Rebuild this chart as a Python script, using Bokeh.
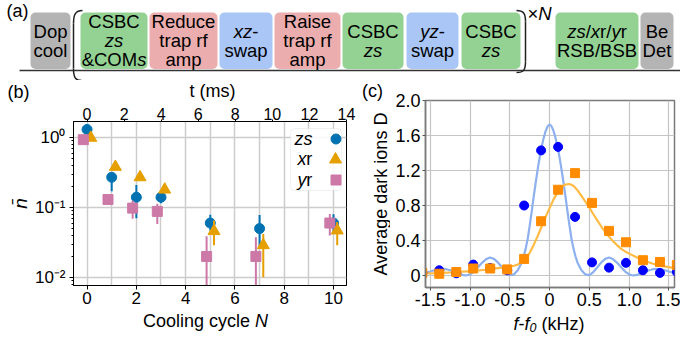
import math
import numpy as np
from bokeh.plotting import figure
from bokeh.layouts import column, row
from bokeh.models import (Range1d, LinearAxis, FixedTicker, Label, BoxAnnotation,
                          Legend, LegendItem, PrintfTickFormatter, AllLabels)
from bokeh.core.properties import value
from bokeh.embed import file_html
from bokeh.resources import INLINE

FONT = "Liberation Sans"

# ---------------- panel (b) data ----------------
cycles = [0, 1, 2, 3, 5, 7, 10]
zs_nbar = [1.3, 0.27, 0.14, 0.14, 0.06, 0.05, 0.06]
zs_lo = [1.2, 0.17, 0.07, 0.115, 0.047, 0.027, 0.044]
zs_hi = [1.4, 0.30, 0.21, 0.16, 0.079, 0.078, 0.08]
xr_nbar = [0.99, 0.38, 0.27, 0.18, 0.046, 0.029, 0.047]
xr_lo = [0.93, 0.35, 0.25, 0.165, 0.029, 0.0101, 0.029]
xr_hi = [1.05, 0.41, 0.29, 0.195, 0.065, 0.042, 0.062]
yr_nbar = [0.93, 0.13, 0.098, 0.088, 0.02, 0.02, 0.06]
yr_lo = [0.88, 0.12, 0.069, 0.058, 0.001, 0.001, 0.04]
yr_hi = [0.98, 0.14, 0.126, 0.113, 0.039, 0.0375, 0.081]
n_ticks = [0, 2, 4, 6, 8, 10]
t_ticks = [0, 2, 4, 6, 8, 10, 12, 14]
ms_per_cycle = 1.33
y_tick_labels = {0.01: "10\u207b\u00b2", 0.1: "10\u207b\u00b9", 1: "10\u2070"}

# ---------------- panel (c) data ----------------
detuning = [-1.6, -1.387, -1.173, -0.96, -0.747, -0.533, -0.32, -0.107,
            0.107, 0.32, 0.533, 0.747, 0.96, 1.173, 1.387, 1.6]
dark_blue = [0.03, 0.06, 0.025, 0.125, 0.085, 0.06, 0.80, 1.43,
             1.47, 0.67, 0.15, 0.09, 0.145, 0.06, 0.03, 0.04]
dark_orange = [0.03, 0.02, 0.04, 0.08, 0.08, 0.07, 0.19, 0.62,
               0.98, 1.17, 0.83, 0.51, 0.38, 0.175, 0.155, 0.12]
fit_blue_x = [-1.56, -1.5, -1.45, -1.4, -1.35, -1.3, -1.25, -1.2, -1.15, -1.1, -1.05,
              -1.0, -0.95, -0.9, -0.85, -0.8, -0.75, -0.7, -0.65, -0.6, -0.55, -0.5,
              -0.45, -0.4, -0.35, -0.325, -0.3, -0.275, -0.25, -0.225, -0.2, -0.175,
              -0.15, -0.125, -0.1, -0.075, -0.05, -0.025, 0.0,
              0.025, 0.05, 0.075, 0.1, 0.125, 0.15, 0.175, 0.2, 0.225, 0.25, 0.275,
              0.3, 0.325, 0.35, 0.4, 0.45, 0.5, 0.55, 0.6, 0.65, 0.7, 0.75, 0.8,
              0.85, 0.9, 0.95, 1.0, 1.05, 1.1, 1.15, 1.2, 1.25, 1.3, 1.35, 1.4,
              1.45, 1.5, 1.57]
fit_blue_y = [0.03, 0.045, 0.06, 0.07, 0.075, 0.072, 0.06, 0.043, 0.024, 0.008, 0.0,
              0.012, 0.045, 0.095, 0.145, 0.185, 0.205, 0.19, 0.15, 0.095, 0.04, 0.005,
              0.012, 0.06, 0.15, 0.22, 0.31, 0.42, 0.57, 0.73, 0.90, 1.06,
              1.21, 1.35, 1.47, 1.57, 1.65, 1.705, 1.726,
              1.705, 1.65, 1.57, 1.47, 1.35, 1.21, 1.06, 0.90, 0.73, 0.57, 0.42,
              0.31, 0.22, 0.15, 0.06, 0.012, 0.005, 0.04, 0.095, 0.15, 0.19, 0.205, 0.185,
              0.145, 0.095, 0.045, 0.012, 0.0, 0.008, 0.024, 0.043, 0.06, 0.072, 0.075, 0.07,
              0.06, 0.045, 0.03]
fit_orange_x = [-1.56, -1.4, -1.2, -1.0, -0.8, -0.7, -0.6, -0.5, -0.45, -0.4, -0.35, -0.3,
                -0.25, -0.2, -0.15, -0.1, -0.05, 0.0, 0.05, 0.1, 0.15, 0.2, 0.25, 0.3,
                0.35, 0.4, 0.45, 0.5, 0.55, 0.6, 0.65, 0.7, 0.75, 0.8, 0.85, 0.9, 0.95,
                1.0, 1.1, 1.2, 1.3, 1.4, 1.5, 1.57]
fit_orange_y = [0.023, 0.028, 0.037, 0.05, 0.066, 0.078, 0.09, 0.103, 0.112, 0.125, 0.15, 0.195,
                0.26, 0.35, 0.45, 0.56, 0.67, 0.77, 0.87, 0.95, 1.01, 1.04, 1.045, 1.025,
                0.975, 0.91, 0.845, 0.775, 0.70, 0.63, 0.56, 0.495, 0.44, 0.39, 0.345, 0.305, 0.275,
                0.25, 0.205, 0.165, 0.135, 0.11, 0.095, 0.085]
c_x_ticks = [-1.5, -1.0, -0.5, 0, 0.5, 1.0, 1.5]
c_y_ticks = [0, 0.4, 0.8, 1.2, 1.6, 2.0]

# ---------------- panel (a) sequence ----------------
step_lines = [
    [[("Dop", 0)], [("cool", 0)]],
    [[("CSBC", 0)], [("zs", 1)], [("&COM", 0), ("s", 1)]],
    [[("Reduce", 0)], [("trap rf", 0)], [("amp", 0)]],
    [[("xz", 1), ("-", 0)], [("swap", 0)]],
    [[("Raise", 0)], [("trap rf", 0)], [("amp", 0)]],
    [[("CSBC", 0)], [("zs", 1)]],
    [[("yz", 1), ("-", 0)], [("swap", 0)]],
    [[("CSBC", 0)], [("zs", 1)]],
    [[("zs", 1), ("/", 0), ("x", 1), ("r/", 0), ("y", 1), ("r", 0)], [("RSB/BSB", 0)]],
    [[("Be", 0)], [("Det", 0)]],
]
step_kind = ["det", "csbc", "rf", "swap", "rf", "csbc", "swap", "csbc", "csbc", "det"]

# ---------------- layout / style ----------------
kind_color = {"det": "#b4b4b4", "csbc": "#93d293", "rf": "#ebadad", "swap": "#a9c6f7"}
box_left = [30, 80, 149, 219, 274, 342, 406, 461, 555, 640]
box_right = [70, 147, 217, 272, 340, 403, 458, 520, 638, 673]
line_y = {2: [31, 50], 3: [21, 40, 59]}

C_ZS, C_XR, C_YR = "#0072B2", "#E69F00", "#CC79A7"

W = {'&': .667, 'C': .722, 'O': .778, 'M': .833, 's': .5, 'x': .5, 'z': .5, '-': .333,
     'y': .5, '/': .278, 'r': .333, 'N': .722, '\u00d7': .584, 'f': .278, '0': .556,
     ' ': .278, '(': .333, ')': .333, 'k': .5, 'H': .722, 'o': .556, 'l': .222,
     'i': .222, 'n': .556, 'g': .556, 'c': .5, 'e': .556, 'S': .667, 'B': .667,
     'R': .722, 'd': .556, 'u': .556, 't': .278, 'a': .556, 'p': .556, 'm': .833,
     'w': .722, 'D': .722, 'b': .556}


def text_w(t, size):
    return sum(W.get(ch, .556) for ch in t) * size


def add_text(fig, x, y, text, size, italic=False, align="center", baseline="middle", angle=0.0):
    fig.add_layout(Label(x=x, y=y, text=text, text_font=FONT, text_font_size=f"{size}px",
                         text_font_style="italic" if italic else "normal",
                         text_align=align, text_baseline=baseline, angle=angle,
                         text_color="black"))


def add_pieces(fig, pieces, x, y, size, anchor="center", data_per_px=1.0):
    widths = [text_w(t, size) for t, _ in pieces]
    total = sum(widths)
    if anchor == "center":
        cur = x - total / 2 * data_per_px
    elif anchor == "right":
        cur = x - total * data_per_px
    else:
        cur = x
    for (t, it), w in zip(pieces, widths):
        add_text(fig, cur, y, t.strip(), size, italic=bool(it), align="left")
        cur += w * data_per_px


def no_align(f):
    if "frame_align" in f.properties():
        f.frame_align = False
    return f


def strip(x0, x1, y0, y1):
    """A blank figure whose data coordinates equal page pixels."""
    f = figure(width=x1 - x0, height=y1 - y0, x_range=Range1d(x0, x1), y_range=Range1d(y1, y0),
               x_axis_location=None, y_axis_location=None, output_backend="svg",
               toolbar_location=None, min_border=0, title_location=None)
    f.grid.visible = False
    f.outline_line_color = None
    return no_align(f)


TOP_H = 80          # height of the schematic strip
MID_Y1 = 311        # bottom of the plot row

# ================= panel (a) =================
pa = strip(0, 680, 0, TOP_H)
pa.quad(left=box_left, right=box_right, top=[12] * len(box_left), bottom=[68.5] * len(box_left),
        fill_color=[kind_color[k] for k in step_kind], line_color=None, border_radius=5)
pa.segment(x0=[19], y0=[70], x1=[680], y1=[70], line_color="#333333", line_width=1.5)
pa.bezier(x0=[82, 73], y0=[10, 68], x1=[73, 81], y1=[23, 80],
          cx0=[75, 73], cy0=[10, 77], cx1=[73, 75], cy1=[14, 80],
          line_color="#222222", line_width=1.5)
pa.segment(x0=[73], y0=[23], x1=[73], y1=[68], line_color="#222222", line_width=1.5)
pa.bezier(x0=[516, 525], y0=[10, 61], x1=[525, 516], y1=[21, 72],
          cx0=[523, 525], cy0=[10, 70], cx1=[525, 523], cy1=[13, 72],
          line_color="#222222", line_width=1.5)
pa.segment(x0=[525], y0=[21], x1=[525], y1=[61], line_color="#222222", line_width=1.5)
for lines, l, r in zip(step_lines, box_left, box_right):
    for pieces, yy in zip(lines, line_y[len(lines)]):
        add_pieces(pa, pieces, (l + r) / 2, yy, 18.5)
add_pieces(pa, [("\u00d7", 0), ("N", 1)], 527, 13, 18.5, anchor="left")
add_text(pa, 17, 10, "(a)", 18)

# ================= panel (b) =================
FB_L, FB_R, FB_T, FB_B = 68, 346, 121, 285      # frame edges on the page
B_X0, B_X1, B_Y0, B_Y1 = 31, 356, 101, MID_Y1   # canvas of panel (b) on the page
b_x0, b_x1 = -0.55, 14.0 / ms_per_cycle
b_y0, b_y1 = 0.0077, 1.69
pb = figure(width=B_X1 - B_X0, height=B_Y1 - B_Y0,
            x_range=Range1d(b_x0, b_x1), y_range=Range1d(b_y0, b_y1),
            y_axis_type="log", output_backend="svg", toolbar_location=None,
            title_location=None,
            min_border_left=FB_L - B_X0, min_border_right=B_X1 - FB_R,
            min_border_top=FB_T - B_Y0, min_border_bottom=B_Y1 - FB_B)
no_align(pb)
bottom_ax = pb.below[0]
left_ax = pb.left[0]
pb.extra_x_ranges = {"t": Range1d(b_x0 * ms_per_cycle, 14.0)}
top_ax = LinearAxis(x_range_name="t", ticker=FixedTicker(ticks=t_ticks))
pb.add_layout(top_ax, "above")

b_pxu = (FB_R - FB_L) / (b_x1 - b_x0)
b_pxd = (FB_B - FB_T) / (math.log10(b_y1) - math.log10(b_y0))


def bx(px):
    return b_x0 + (px - FB_L) / b_pxu


def by(py):
    return 10 ** (math.log10(b_y1) - (py - FB_T) / b_pxd)


bottom_ax.ticker = FixedTicker(ticks=n_ticks)
left_ax.ticker = FixedTicker(ticks=[0.01, 0.1, 1],
                             minor_ticks=[m * d for d in (0.001, 0.01, 0.1, 1.0) for m in range(2, 10)])
left_ax.major_label_overrides = y_tick_labels
pb.xgrid.ticker = FixedTicker(ticks=list(range(0, 11)))
pb.ygrid.ticker = FixedTicker(ticks=[0.01, 0.1, 1])
pb.grid.grid_line_color = "#cccccc"
pb.grid.grid_line_width = 1.5
pb.outline_line_color = "black"
pb.outline_line_width = 1
for ax in (bottom_ax, left_ax, top_ax):
    ax.axis_line_color = "black"
    ax.major_tick_line_color = "black"
    ax.major_tick_out = 4
    ax.major_tick_in = 0
    ax.minor_tick_out = 2
    ax.minor_tick_in = 0
    ax.major_label_text_font = FONT
    ax.major_label_text_font_size = "17px"
    ax.major_label_text_color = "black"
    ax.major_label_policy = AllLabels()
for ax in (bottom_ax, top_ax):
    ax.minor_tick_line_color = None
top_ax.major_tick_out = 2
top_ax.major_label_text_font_size = "16px"
bottom_ax.major_label_standoff = 2
top_ax.major_label_standoff = 0
left_ax.major_label_standoff = 4

off = 0.15
series = [
    (zs_nbar, zs_lo, zs_hi, 0.0, C_ZS, "circle", 10),
    (xr_nbar, xr_lo, xr_hi, off, C_XR, "triangle", 12),
    (yr_nbar, yr_lo, yr_hi, -off, C_YR, "square", 10),
]
renderers = []
for vals, lo, hi, dx, col, mk, sz in series:
    xs = (np.array(cycles) + dx).tolist()
    pb.segment(x0=xs, y0=lo, x1=xs, y1=hi, line_color=col, line_width=2)
    r = pb.scatter(x=xs, y=vals, marker=mk, size=sz, fill_color=col, line_color=col)
    renderers.append((r, sz))

pb.add_layout(BoxAnnotation(left=bx(289), right=bx(341), top=by(128), bottom=by(190),
                            fill_color="white", fill_alpha=0.85, line_color="#cccccc",
                            line_width=1, border_radius=4))
leg_rows = [138, 158.5, 179]
leg_text = [[("zs", 1)], [("x", 1), ("r", 0)], [("y", 1), ("r", 0)]]
for (r, sz), yy, pieces in zip(renderers, leg_rows, leg_text):
    add_pieces(pb, pieces, bx(311), by(yy), 18, anchor="right", data_per_px=1 / b_pxu)
    g = int(round(sz / 0.4))
    leg = Legend(items=[LegendItem(label=value(""), renderers=[r])],
                 location=(330 - FB_L - g / 2, FB_B - yy - g / 2),
                 glyph_width=g, glyph_height=g, padding=0, margin=0, spacing=0,
                 label_standoff=0, label_width=0, label_height=0,
                 border_line_color=None, background_fill_alpha=0)
    pb.add_layout(leg)

# strips carrying the texts around panel (b)
pb_left = strip(0, B_X0, TOP_H, MID_Y1)
add_text(pb_left, 18, 91.5, "(b)", 18)
add_text(pb_left, 20, 203, "n\u0304", 19, italic=True, angle=math.pi / 2)
pb_top = strip(B_X0, B_X1, TOP_H, B_Y0)
add_text(pb_top, 212, 90.5, "t (ms)", 18)

# ================= panel (c) =================
FC_L, FC_R, FC_T, FC_B = 425, 674, 100, 287
C_X0, C_X1, C_Y0, C_Y1 = 390, 680, TOP_H, MID_Y1
c_x0, c_x1 = -1.56, 1.57
c_y0, c_y1 = -0.137, 2.0
pc = figure(width=C_X1 - C_X0, height=C_Y1 - C_Y0,
            x_range=Range1d(c_x0, c_x1), y_range=Range1d(c_y0, c_y1),
            output_backend="svg", toolbar_location=None, title_location=None,
            min_border_left=FC_L - C_X0, min_border_right=C_X1 - FC_R,
            min_border_top=FC_T - C_Y0, min_border_bottom=C_Y1 - FC_B)
no_align(pc)
pc.xaxis.ticker = FixedTicker(ticks=c_x_ticks)
pc.yaxis.ticker = FixedTicker(ticks=c_y_ticks)
pc.xaxis.formatter = PrintfTickFormatter(format="%.1f")
pc.yaxis.formatter = PrintfTickFormatter(format="%.1f")
pc.xaxis.major_label_overrides = {0: "0"}
pc.yaxis.major_label_overrides = {0: "0"}
pc.grid.grid_line_color = "#c4c4c4"
pc.grid.grid_line_width = 1.2
pc.outline_line_color = "#7a7a7a"
pc.outline_line_width = 1.5
for ax in pc.axis:
    ax.axis_line_color = "#7a7a7a"
    ax.axis_line_width = 1.5
    ax.major_tick_line_color = "#555555"
    ax.major_tick_out = 3
    ax.major_tick_in = 0
    ax.minor_tick_line_color = None
    ax.major_label_text_font = FONT
    ax.major_label_text_font_size = "18px"
    ax.major_label_text_color = "black"
pc.xaxis.major_label_standoff = 2
pc.yaxis.major_label_standoff = 2

pc.line(fit_blue_x, fit_blue_y, line_color="#8db0ee", line_width=2.2)
pc.line(fit_orange_x, fit_orange_y, line_color="#ffbb44", line_width=2.2)
pc.scatter(detuning, dark_blue, marker="circle", size=9, fill_color="#0000ff", line_color="#0000ff")
pc.scatter(detuning, dark_orange, marker="square", size=9, fill_color="#ff8c00", line_color="#ff8c00")

pc_left = strip(B_X1, C_X0, TOP_H, MID_Y1)
add_text(pc_left, 372, 90.5, "(c)", 18)
add_text(pc_left, 380, 193.5, "Average dark ions D", 18, angle=math.pi / 2)

# ================= bottom strip: x-axis titles =================
pbot = strip(0, 680, MID_Y1, 341)
add_pieces(pbot, [("Cooling cycle ", 0), ("N", 1)], 205, 320.5, 18)
x_cur = 513
for t, it, sz, dy in [("f", 1, 18, 0), ("-", 0, 18, 0), ("f", 1, 18, 0), ("0", 1, 12.5, 4),
                      (" (kHz)", 0, 18, 0)]:
    lead = text_w(t[: len(t) - len(t.lstrip())], sz)
    add_text(pbot, x_cur + lead, 323 + dy, t.strip(), sz, italic=bool(it), align="left")
    x_cur += text_w(t, sz)

layout = column(pa,
                row(pb_left, column(pb_top, pb), pc_left, pc),
                pbot)
open("out.html", "w").write(file_html(layout, INLINE))
